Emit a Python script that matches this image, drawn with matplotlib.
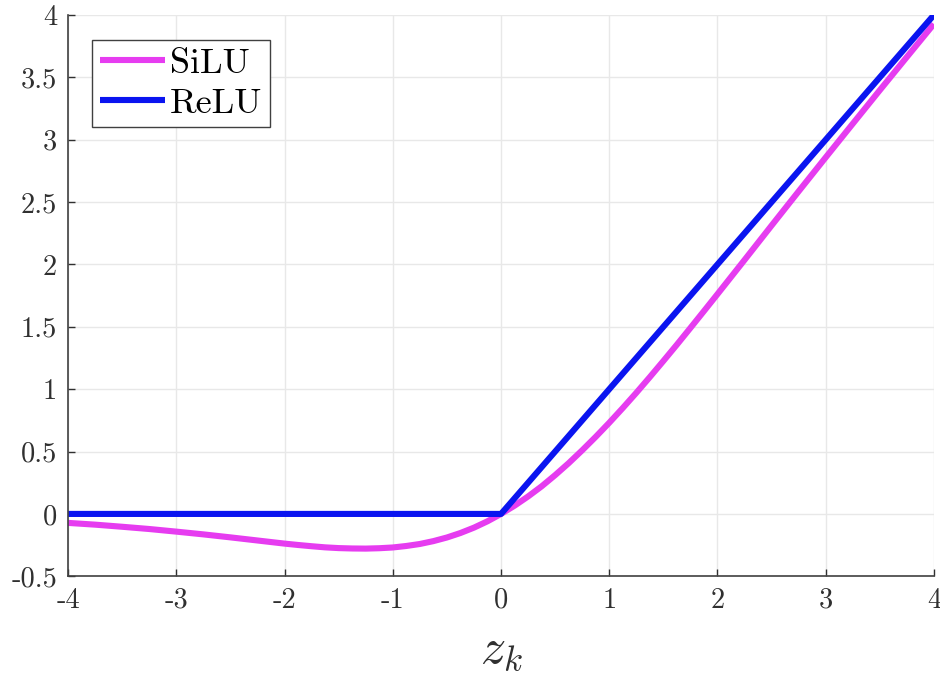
import matplotlib
matplotlib.use('Agg')
import matplotlib.pyplot as plt

plt.rcParams['font.family'] = 'serif'
plt.rcParams['font.serif'] = ['cmr10', 'DejaVu Serif']
plt.rcParams['mathtext.fontset'] = 'cm'
plt.rcParams['axes.unicode_minus'] = False

# values
z = [-4.0, -3.75, -3.5, -3.25, -3.0, -2.75, -2.5, -2.25, -2.0, -1.875, -1.75,
     -1.625, -1.5, -1.375, -1.25, -1.125, -1.0, -0.875, -0.75, -0.625, -0.5,
     -0.375, -0.25, -0.125, 0.0, 0.125, 0.25, 0.375, 0.5, 0.625, 0.75, 0.875,
     1.0, 1.125, 1.25, 1.375, 1.5, 1.625, 1.75, 1.875, 2.0, 2.25, 2.5, 2.75,
     3.0, 3.25, 3.5, 3.75, 4.0]
silu = [-0.072, -0.086, -0.103, -0.121, -0.142, -0.164, -0.188, -0.213,
        -0.238, -0.249, -0.259, -0.268, -0.274, -0.277, -0.278, -0.275,
        -0.269, -0.257, -0.241, -0.218, -0.189, -0.153, -0.110, -0.059,
        0.0, 0.066, 0.140, 0.221, 0.311, 0.407, 0.510, 0.618, 0.731, 0.849,
        0.971, 1.097, 1.226, 1.357, 1.491, 1.626, 1.762, 2.036, 2.312,
        2.586, 2.858, 3.128, 3.397, 3.663, 3.928]
relu_z = [-4, 0, 4]
relu = [0, 0, 4]

xticks = [-4, -3, -2, -1, 0, 1, 2, 3, 4]
xlabels = ['-4', '-3', '-2', '-1', '0', '1', '2', '3', '4']
yticks = [-0.5, 0, 0.5, 1, 1.5, 2, 2.5, 3, 3.5, 4]
ylabels = ['-0.5', '0', '0.5', '1', '1.5', '2', '2.5', '3', '3.5', '4']

fig = plt.figure(figsize=(9.4, 6.82), dpi=100)
ax = fig.add_axes([0.0725, 0.155, 0.921, 0.823])

ax.plot(z, silu, color='#e63cf0', lw=4.4, label='SiLU', solid_capstyle='butt',
        solid_joinstyle='round')
ax.plot(relu_z, relu, color='#0a14f0', lw=4.4, label='ReLU', solid_capstyle='butt')

ax.set_xlim(-4, 4)
ax.set_ylim(-0.5, 4)
ax.set_xticks(xticks)
ax.set_xticklabels(xlabels)
ax.set_yticks(yticks)
ax.set_yticklabels(ylabels)
ax.tick_params(direction='in', length=5, width=1, colors='#303030', labelsize=20.5, pad=8)
ax.grid(True, color='#e8e8e8', lw=1)
ax.set_axisbelow(True)
for s in ['top', 'right']:
    ax.spines[s].set_visible(False)
for s in ['left', 'bottom']:
    ax.spines[s].set_color('#404040')
    ax.spines[s].set_linewidth(1.2)

ax.set_xlabel('$z_k$', fontsize=36, color='#303030', labelpad=10)

leg = ax.legend(loc='upper left', fontsize=26, fancybox=False, framealpha=1,
                edgecolor='#404040', bbox_to_anchor=(0.028, 0.955),
                handlelength=1.8, handletextpad=0.15, borderpad=0.2,
                labelspacing=0.22, borderaxespad=0)
leg.get_frame().set_linewidth(1)

fig.savefig('out.png', dpi=100)
